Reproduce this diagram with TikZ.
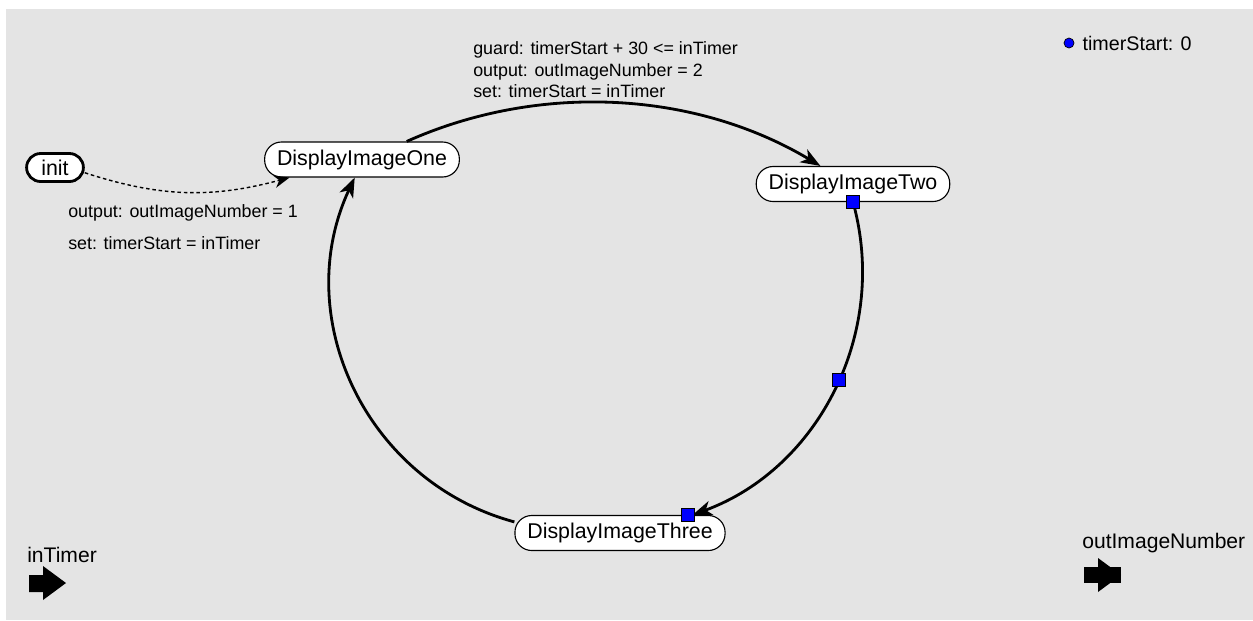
\documentclass[tikz,border=0pt]{standalone}
\usepackage{fontspec}
\setmainfont{Liberation Sans}
\usetikzlibrary{arrows.meta,positioning}
\definecolor{canvas}{RGB}{228,228,228}
\tikzset{
  state box/.style={
    draw=black, fill=white, line width=0.8pt,
    rounded corners=0.42cm,
    minimum height=0.875cm, inner xsep=0.31cm, inner ysep=0pt,
    font=\fontsize{15.2pt}{18pt}\selectfont,
  },
  init box/.style={
    state box, line width=2pt, rounded corners=0.35cm,
    minimum height=0.7cm, minimum width=1.42cm, inner xsep=0.1cm,
  },
  transition/.style={line width=2pt, -{Stealth[length=14pt,width=10.5pt,inset=4pt]}},
  init transition/.style={line width=1pt, dash pattern=on 2.5pt off 2pt,
    -{Stealth[length=11pt,width=9pt,inset=3.5pt]}},
  handle/.style={rectangle, draw=black, fill=blue, line width=0.5pt,
    minimum size=0.32cm, inner sep=0pt},
  annotation/.style={anchor=north west, inner sep=0pt, align=left,
    font=\fontsize{12.7pt}{15.3pt}\selectfont},
  port label/.style={anchor=west, inner sep=0pt, font=\fontsize{15pt}{18pt}\selectfont},
  param dot/.style={circle, draw=black, fill=blue, line width=0.5pt,
    minimum size=0.25cm, inner sep=0pt},
}

\begin{document}
\begin{tikzpicture}[x=0.025cm, y=-0.025cm]
  \useasboundingbox (0,0) rectangle (1253,620);
  \fill [canvas] (6,9) rectangle (1253,620);

  % states
  \node [init box] (init) at (55,167.5) {init};
  \node [state box] (one) at (362,159.5) {DisplayImageOne};
  \node [state box] (two) at (853,184) {DisplayImageTwo};
  \node [state box] (three) at (620,533) {DisplayImageThree};

  % transitions
  \draw [init transition] (init.-10) to[out=-18, in=195] (one.194);
  \draw [transition] (one.22) to[bend left=27.5, looseness=0.9] (two.151);
  \draw [transition] (two.south) to[bend left=42.7, looseness=0.98]
    node [handle, pos=0] (h1) {}
    node [handle, pos=0.47] (h2) {}
    node [handle, pos=1, xshift=-0.12cm] (h3) {} (three.14);
  \draw [transition] (three.174) to[bend left=50, looseness=1.04] (one.248);

  % labels
  \node [annotation] (lbl12) at (473,41.5) {guard: timerStart + 30 <= inTimer\\
    output: outImageNumber = 2\\ set: timerStart = inTimer};
  \node [annotation] (lblinit) at (68,204.5) {output: outImageNumber = 1\\[7.5pt]
    set: timerStart = inTimer};

  % parameter
  \node [param dot] (dot) at (1069,43) {};
  \node [port label, font=\fontsize{14pt}{17pt}\selectfont, right=0.2cm of dot] (param) {timerStart: 0};

  % ports
  \node [port label] (intimer) at (27,555) {inTimer};
  \fill (29,575) -- (43,575) -- (43,566) -- (66,583) -- (43,600) -- (43,592) -- (29,592) -- cycle;
  \node [port label] (outnum) at (1082,543) {outImageNumber};
  \fill (1084,567) rectangle (1121,583);
  \fill (1098,558) -- (1121,575) -- (1098,592) -- cycle;
\end{tikzpicture}
\end{document}
